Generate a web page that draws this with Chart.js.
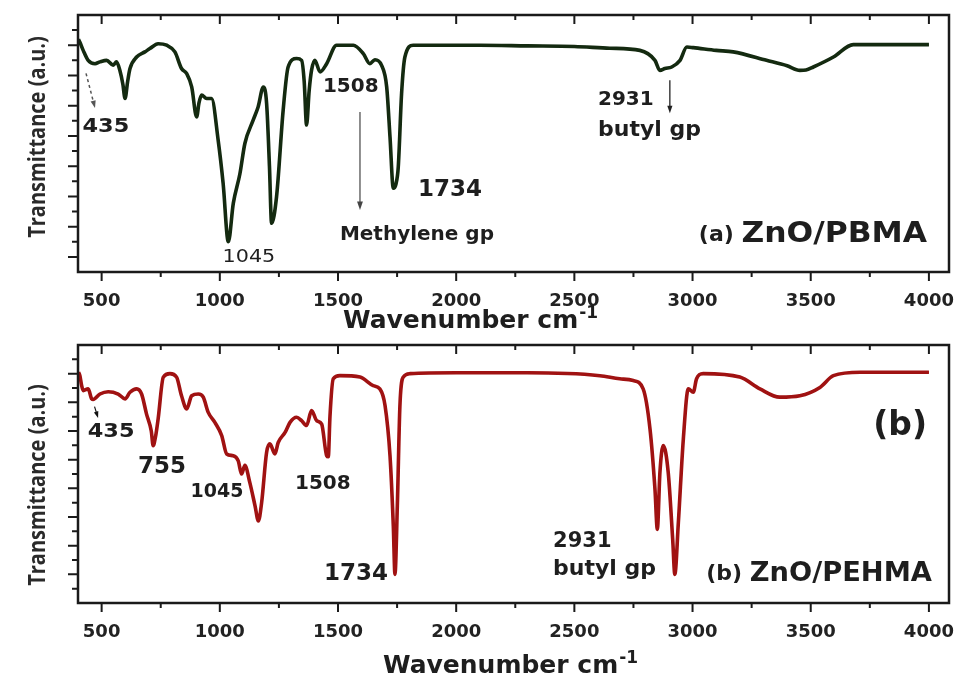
<!DOCTYPE html>
<html>
<head>
<meta charset="utf-8">
<script src="https://cdn.jsdelivr.net/npm/chart.js@4.4.1/dist/chart.umd.min.js"></script>
<style>
  html, body { margin: 0; padding: 0; background: #fff; }
  #wrap { width: 957px; height: 683px; position: relative; }
  canvas { display: block; position: absolute; left: 0; }
</style>
</head>
<body>
<div id="wrap">
  <canvas id="pbmaChart" width="957" height="335" style="top:0"></canvas>
  <canvas id="pehmaChart" width="957" height="348" style="top:335px"></canvas>
</div>
<script>
// axis ticks (wavenumber cm-1, transmittance a.u.)
const xMajorTicks = [500, 1000, 1500, 2000, 2500, 3000, 3500, 4000];
const xMinorTicks = [750, 1250, 1750, 2250, 2750, 3250, 3750];
const yMajorTicks = [10, 20, 30, 40, 50, 60, 70, 80];
const yMinorTicksTop = [15, 25, 35, 45, 55, 65, 75, 85];
const yMinorTicksBottom = [5, 15, 25, 35, 45, 55, 65, 75, 85];

// (a) ZnO/PBMA spectrum
const pbmaWavenumber = [402, 408, 422, 443, 472, 493, 521, 549, 563, 577, 590, 599, 610, 620, 648, 683, 704, 739, 775, 810,
  838, 860, 881, 902, 912, 923, 944, 965, 993, 1014, 1036, 1057, 1085, 1106, 1141, 1162, 1184, 1198, 1210, 1219,
  1240, 1268, 1289, 1325, 1346, 1357, 1367, 1378, 1388, 1402, 1424, 1452, 1494, 1565, 1607, 1635, 1656, 1684, 1706, 1720,
  1734, 1745, 1755, 1769, 1783, 1818, 1900, 2100, 2300, 2500, 2650, 2777, 2841, 2862, 2883, 2912, 2947, 2976, 3003, 3100,
  3172, 3313, 3400, 3454, 3480, 3511, 3596, 3680, 3879, 4000];
const pbmaTransmittance = [82, 81, 78.3, 75, 73.9, 74.5, 75, 73.4, 74.5, 71.7, 67, 62.4, 68, 72.3, 76.1, 77.8, 78.9, 80.5, 80, 77.8,
  72.3, 70.6, 66.2, 56.3, 61, 63.5, 62.4, 62.4, 48.6, 34.3, 15, 27.7, 37.5, 47.5, 55.2, 59.6, 66.2, 60.7, 40, 21.1,
  29.9, 58.5, 72.8, 75.6, 75, 68, 53.6, 65, 71.7, 75, 71.2, 73.9, 80, 80, 77.2, 73.9, 75.2, 73.4, 66.2, 49.7,
  32.7, 34, 39.8, 64, 76.1, 80, 80, 80, 79.8, 79.6, 79, 78.3, 75, 71.7, 72.3, 72.8, 75, 79.4, 79.2, 78.3,
  77.8, 75, 73.2, 71.7, 71.8, 72.8, 76.1, 80.2, 80.2, 80.2];

// (b) ZnO/PEHMA spectrum
const pehmaWavenumber = [402, 408, 415, 422, 443, 458, 464, 493, 528, 570, 599, 620, 648, 669, 690, 710, 718, 728, 739, 761,
  789, 817, 838, 860, 881, 909, 930, 951, 979, 1008, 1029, 1057, 1078, 1092, 1106, 1127, 1149, 1163, 1177, 1198,
  1212, 1233, 1247, 1276, 1297, 1325, 1346, 1367, 1388, 1410, 1431, 1452, 1459, 1466, 1480, 1508, 1593, 1649, 1677, 1699,
  1720, 1734, 1741, 1751, 1762, 1776, 1804, 2000, 2300, 2608, 2692, 2749, 2791, 2820, 2841, 2851, 2862, 2876, 2897, 2916,
  2925, 2940, 2961, 2982, 3003, 3017, 3045, 3200, 3285, 3369, 3454, 3539, 3596, 3710, 4000];
const pehmaTransmittance = [80.5, 79.3, 76, 74.1, 74.7, 71.2, 71, 72.9, 73.7, 72.9, 71.2, 73.5, 74.7, 72.9, 65.9, 60, 54.9, 58, 64.2, 78.8,
  80, 78.8, 72.3, 67.7, 72.3, 72.9, 71.8, 66.5, 63, 58.4, 52, 51.4, 49.6, 45, 48, 42, 33.9, 28.6, 35.1, 52.6,
  55.5, 52, 56, 59.5, 63, 64.8, 63.6, 61.9, 67.1, 63.6, 62.4, 51.4, 51, 65, 78.2, 79.3, 78.8, 75.8, 74.7, 68.9,
  51.4, 26.9, 10, 33.9, 68.9, 78.8, 80, 80.3, 80.3, 79.3, 78.2, 77.6, 74.7, 60.7, 39.7, 25.7, 45.6, 54.9, 45.6, 22.2,
  10, 28.1, 57.2, 74.7, 73.5, 78.2, 80, 78.8, 74.7, 71.8, 72.3, 75.2, 79.3, 80.5, 80.5];

const FONT = '"DejaVu Sans", "Liberation Sans", sans-serif';
const INK = '#1e1e1e';

function drawParts(ctx, parts, x, y, align) {
  // parts: [{t, size, weight, sx}] drawn on one line, centred vertically on y
  let total = 0;
  parts.forEach(p => {
    ctx.font = (p.weight || 'bold') + ' ' + p.size + 'px ' + FONT;
    p.w = ctx.measureText(p.t).width * (p.sx || 1);
    total += p.w;
  });
  let left = x;
  if (align === 'center') left = x - total / 2;
  if (align === 'right') left = x - total;
  parts.forEach(p => {
    ctx.save();
    ctx.font = (p.weight || 'bold') + ' ' + p.size + 'px ' + FONT;
    ctx.fillStyle = INK;
    ctx.textAlign = 'left';
    ctx.textBaseline = 'middle';
    ctx.translate(left, y);
    ctx.scale(p.sx || 1, 1);
    ctx.fillText(p.t, 0, 0);
    ctx.restore();
    left += p.w;
  });
}

function drawArrow(ctx, x1, y1, x2, y2, a) {
  const ang = Math.atan2(y2 - y1, x2 - x1);
  const head = a.head || 8;
  ctx.save();
  ctx.strokeStyle = a.color;
  ctx.fillStyle = a.color;
  ctx.lineWidth = a.width || 1.2;
  ctx.setLineDash(a.dash || []);
  ctx.beginPath();
  ctx.moveTo(x1, y1);
  ctx.lineTo(x2 - Math.cos(ang) * head * 0.7, y2 - Math.sin(ang) * head * 0.7);
  ctx.stroke();
  ctx.setLineDash([]);
  ctx.beginPath();
  ctx.moveTo(x2, y2);
  ctx.lineTo(x2 - head * Math.cos(ang - 0.33), y2 - head * Math.sin(ang - 0.33));
  ctx.lineTo(x2 - head * Math.cos(ang + 0.33), y2 - head * Math.sin(ang + 0.33));
  ctx.closePath();
  ctx.fill();
  ctx.restore();
}

function makePlugin(cfg) {
  return {
    id: 'ftir',
    afterDatasetsDraw(chart) {
      const ctx = chart.ctx, a = chart.chartArea;
      const xs = chart.scales.x, ys = chart.scales.y;
      ctx.save();
      ctx.strokeStyle = '#1a1a1a';
      ctx.lineWidth = 2.5;
      ctx.strokeRect(a.left, a.top, a.right - a.left, a.bottom - a.top);
      ctx.lineWidth = 2;
      ctx.beginPath();
      xMajorTicks.forEach(v => {
        const p = xs.getPixelForValue(v);
        ctx.moveTo(p, a.bottom); ctx.lineTo(p, a.bottom + 9);
        ctx.moveTo(p, a.top); ctx.lineTo(p, a.top + 9);
      });
      xMinorTicks.forEach(v => {
        const p = xs.getPixelForValue(v);
        ctx.moveTo(p, a.bottom); ctx.lineTo(p, a.bottom + 5);
        ctx.moveTo(p, a.top); ctx.lineTo(p, a.top + 5);
      });
      yMajorTicks.forEach(v => {
        const p = ys.getPixelForValue(v);
        ctx.moveTo(a.left, p); ctx.lineTo(a.left - 10, p);
      });
      cfg.yMinor.forEach(v => {
        const p = ys.getPixelForValue(v);
        ctx.moveTo(a.left, p); ctx.lineTo(a.left - 6, p);
      });
      ctx.stroke();
      ctx.restore();
    },
    afterDraw(chart) {
      const ctx = chart.ctx;
      const xs = chart.scales.x, ys = chart.scales.y;
      cfg.arrows.forEach(r => {
        drawArrow(ctx, xs.getPixelForValue(r.x1), ys.getPixelForValue(r.y1),
          xs.getPixelForValue(r.x2), ys.getPixelForValue(r.y2), r);
      });
      cfg.labels.forEach(l => {
        drawParts(ctx, l.parts, xs.getPixelForValue(l.x), ys.getPixelForValue(l.y), l.align || 'center');
      });
      // x title with superscript
      ctx.save();
      ctx.fillStyle = INK;
      ctx.textBaseline = 'alphabetic';
      ctx.textAlign = 'left';
      ctx.font = 'bold 25px ' + FONT;
      ctx.fillText('Wavenumber cm', cfg.xTitle.x, cfg.xTitle.y);
      const w = ctx.measureText('Wavenumber cm').width;
      ctx.font = 'bold 17px ' + FONT;
      ctx.fillText('-1', cfg.xTitle.x + w + 1, cfg.xTitle.y - 10);
      ctx.restore();
      // y title
      ctx.save();
      ctx.translate(38, cfg.yTitleY);
      ctx.rotate(-Math.PI / 2);
      ctx.scale(1, 1.2);
      ctx.font = 'bold 20px "Open Sans", sans-serif';
      ctx.fillStyle = '#2a2a2a';
      ctx.textAlign = 'center';
      ctx.textBaseline = 'middle';
      ctx.fillText('Transmittance (a.u.)', 0, 0);
      ctx.restore();
    }
  };
}

function buildChart(id, wn, tr, cfg) {
  const points = wn.map((x, i) => ({ x: x, y: tr[i] }));
  return new Chart(document.getElementById(id), {
    type: 'line',
    data: {
      datasets: [
        { data: points, borderColor: cfg.edge, borderWidth: 3.6, pointRadius: 0, cubicInterpolationMode: 'monotone' },
        { data: points, borderColor: cfg.core, borderWidth: 2, pointRadius: 0, cubicInterpolationMode: 'monotone' }
      ]
    },
    options: {
      responsive: false,
      animation: false,
      devicePixelRatio: 1,
      events: [],
      layout: { padding: { top: cfg.padTop, right: 8, left: 0, bottom: 0 } },
      plugins: { legend: { display: false }, tooltip: { enabled: false } },
      scales: {
        x: {
          type: 'linear', min: 400, max: 4085,
          grid: { display: false, drawTicks: false },
          border: { display: false },
          afterBuildTicks: s => { s.ticks = xMajorTicks.map(v => ({ value: v })); },
          afterFit: s => { s.height = cfg.xAxisHeight; s.paddingLeft = 0; s.paddingRight = 0; },
          ticks: { autoSkip: false, maxRotation: 0, padding: 19, color: '#222',
                   callback: v => String(v),
                   font: { family: FONT, size: 18, weight: 'bold' } }
        },
        y: {
          min: cfg.yMin, max: 90,
          grid: { display: false, drawTicks: false },
          border: { display: false },
          ticks: { display: false },
          afterFit: s => { s.width = 78; s.paddingTop = 0; s.paddingBottom = 0; }
        }
      }
    },
    plugins: [makePlugin(cfg)]
  });
}

buildChart('pbmaChart', pbmaWavenumber, pbmaTransmittance, {
  edge: '#142a10', core: '#276b1f', padTop: 15, xAxisHeight: 63, yMin: 5,
  yMinor: yMinorTicksTop, yTitleY: 137,
  xTitle: { x: 343, y: 328 },
  labels: [
    { x: 518, y: 52.9, parts: [{ t: '435', size: 20, sx: 1.12 }] },
    { x: 1123, y: 10, parts: [{ t: '1045', size: 18, weight: 'normal', sx: 1.15 }] },
    { x: 1554, y: 66.1, parts: [{ t: '1508', size: 20 }] },
    { x: 1834, y: 17.3, parts: [{ t: 'Methylene gp', size: 20 }] },
    { x: 1974, y: 32.1, parts: [{ t: '1734', size: 23 }] },
    { x: 2600, y: 61.8, align: 'left', parts: [{ t: '2931', size: 20 }] },
    { x: 2600, y: 51.9, align: 'left', parts: [{ t: 'butyl gp', size: 22 }] },
    { x: 3992, y: 17.3, align: 'right', parts: [{ t: '(a) ', size: 22 }, { t: 'ZnO/PBMA', size: 28, sx: 1.12 }] }
  ],
  arrows: [
    { x1: 434, y1: 70.7, x2: 472, y2: 59.2, color: '#555', width: 1.5, dash: [3, 3], head: 8 },
    { x1: 1593, y1: 57.9, x2: 1593, y2: 25.5, color: '#444', width: 1.2, head: 9 },
    { x1: 2904, y1: 68.4, x2: 2904, y2: 57.5, color: '#222', width: 1.3, head: 8 }
  ]
});

buildChart('pehmaChart', pehmaWavenumber, pehmaTransmittance, {
  edge: '#a01212', core: '#dc1a1a', padTop: 10, xAxisHeight: 80, yMin: 0,
  yMinor: yMinorTicksBottom, yTitleY: 150,
  xTitle: { x: 383, y: 338 },
  labels: [
    { x: 540, y: 59.7, parts: [{ t: '435', size: 20, sx: 1.12 }] },
    { x: 755, y: 47.4, parts: [{ t: '755', size: 23 }] },
    { x: 988, y: 38.7, parts: [{ t: '1045', size: 19 }] },
    { x: 1436, y: 41.5, parts: [{ t: '1508', size: 20 }] },
    { x: 1576, y: 10, parts: [{ t: '1734', size: 23 }] },
    { x: 2410, y: 21.5, align: 'left', parts: [{ t: '2931', size: 21 }] },
    { x: 2410, y: 11.7, align: 'left', parts: [{ t: 'butyl gp', size: 22 }] },
    { x: 3878, y: 61.7, parts: [{ t: '(b)', size: 33 }] },
    { x: 4013, y: 10, align: 'right', parts: [{ t: '(b) ', size: 22 }, { t: 'ZnO/PEHMA', size: 26, sx: 1.05 }] }
  ],
  arrows: [
    { x1: 470, y1: 68.5, x2: 485, y2: 64.5, color: '#111', width: 1.2, head: 7 }
  ]
});
</script>
</body>
</html>
